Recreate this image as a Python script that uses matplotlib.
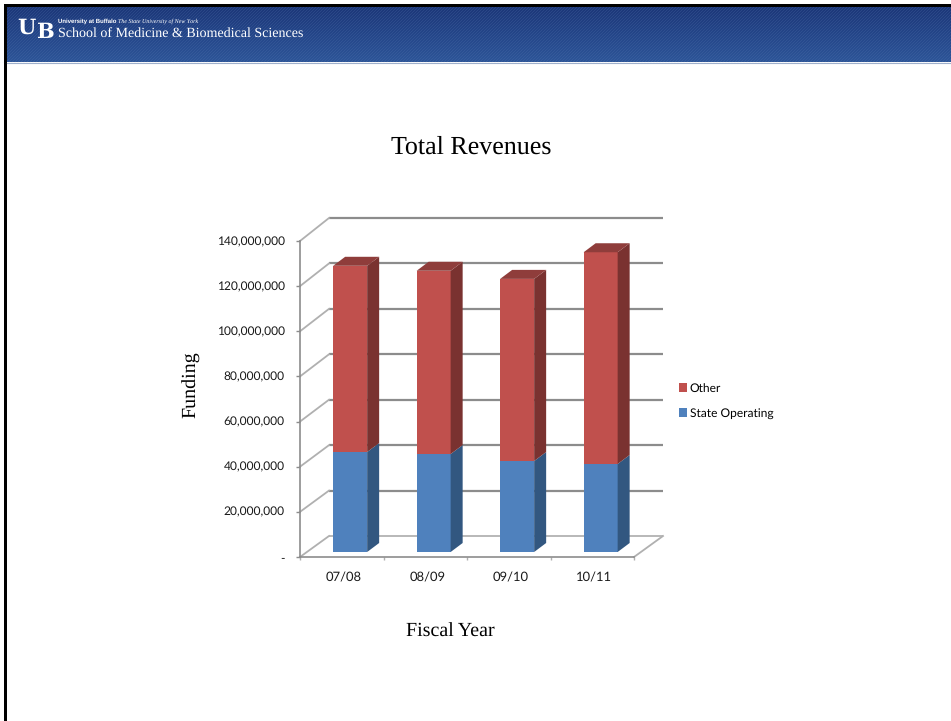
import numpy as np
import matplotlib
matplotlib.use('Agg')
import matplotlib.pyplot as plt
from matplotlib.patches import Rectangle
from matplotlib.transforms import ScaledTranslation

plt.rcParams['text.hinting'] = 'no_hinting'
plt.rcParams['text.hinting_factor'] = 1

years = ['07/08', '08/09', '09/10', '10/11']
state_operating = [44300000, 43400000, 40300000, 39000000]
other = [82500000, 81200000, 80700000, 93800000]
y_ticks = [0, 20000000, 40000000, 60000000, 80000000, 100000000, 120000000, 140000000]
y_labels = ['-', '20,000,000', '40,000,000', '60,000,000', '80,000,000',
            '100,000,000', '120,000,000', '140,000,000']

W, H = 951, 721
GRID = '#8c8c8c'
SANS = 'Lato'
SERIF = 'Liberation Serif'

fig = plt.figure(figsize=(W / 100, H / 100), dpi=100, facecolor='white')


def px_axes(x0, y0, x1, y1):
    # axes placed by picture pixels, y counted from the top
    return fig.add_axes([x0 / W, 1 - y1 / H, (x1 - x0) / W, (y1 - y0) / H])


# header band
bg = fig.add_axes([0, 0, 1, 1])
bg.axis('off')
grad = np.linspace(0, 1, 55)[:, None]
top_c = np.array([0x1b, 0x36, 0x78]) / 255
bot_c = np.array([0x2c, 0x54, 0x98]) / 255
bg.imshow((top_c + (bot_c - top_c) * grad)[:, None, :].reshape(55, 1, 3),
          extent=(4, W, 62, 7), aspect='auto', interpolation='bilinear')
for k in range(-60, W, 3):
    bg.plot([k, k + 55], [62, 7], color='#5f7fb5', lw=0.4, alpha=0.35)
bg.set_xlim(0, W)
bg.set_ylim(H, 0)
bg.add_patch(Rectangle((0, 0), 4, 62, color='white', lw=0, zorder=3))
bg.add_patch(Rectangle((4, 4), W, 3, color='black', lw=0, zorder=3))
bg.add_patch(Rectangle((4, 4), 2.7, H, color='black', lw=0, zorder=3))
bg.plot([6.7, W], [62.5, 62.5], color='#9fb0cc', lw=0.8, zorder=3)
bg.text(17, 28, 'U', color='white', family='DejaVu Serif', weight='bold', fontsize=15,
        va='center', ha='left', zorder=4)
bg.text(36, 32.5, 'B', color='white', family='DejaVu Serif', weight='bold', fontsize=15,
        va='center', ha='left', zorder=4)
bg.text(57.5, 21.5, 'University at Buffalo', color='white', family='Liberation Sans',
        weight='bold', fontsize=4.05, va='center', zorder=4)
bg.text(118, 21.5, 'The State University of New York', color='white', family=SERIF,
        style='italic', fontsize=4.1, va='center', zorder=4)
bg.text(58, 34, 'School of Medicine & Biomedical Sciences', color='white',
        family=SERIF, fontsize=10.35, va='center', zorder=4)

bg.text(471, 147, 'Total Revenues', family=SERIF, fontsize=19, ha='center',
        va='center', color='black')
bg.text(450.5, 632, 'Fiscal Year', family=SERIF, fontsize=14.4, ha='center',
        va='center', color='black')
bg.text(191, 385, 'Funding', family=SERIF, fontsize=14.4, rotation=90, ha='center',
        va='center', color='black')

# chart: front plane of the 3D box
ax = px_axes(300, 241, 634, 557)
ax.set_xlim(0, 4)
ax.set_ylim(0, 140000000)
ax.patch.set_alpha(0)
for s in ['top', 'right']:
    ax.spines[s].set_visible(False)
for s in ['left', 'bottom']:
    ax.spines[s].set_color(GRID)
    ax.spines[s].set_linewidth(1.2)

xpx = 4 / 334  # one pixel in x data units
ypx = 140000000 / 316  # one pixel in y data units
back_dx, back_dy = 29 * xpx, 21 * ypx
back_scale = 318 / 316  # back wall grid is spaced a touch wider than the front axis
bar_dx, bar_dy = 12 * xpx, 9 * ypx
shift_x, shift_y = 8.4 * xpx, 5 * ypx
bar_w = 34 * xpx

# back wall gridlines and the diagonals on the side wall and floor
for t in y_ticks:
    c, w = ('#b8b8b8', 1.4) if t == 0 else (GRID, 1.6)
    back_y = t * back_scale + back_dy
    ax.plot([back_dx, 4 + back_dx], [back_y, back_y], color=c, lw=w,
            clip_on=False, zorder=1, solid_capstyle='butt')
    ax.plot([0, back_dx], [t, back_y], color='#b0b0b0', lw=1.3, clip_on=False, zorder=1)
ax.plot([4, 4 + back_dx], [0, back_dy], color='#b0b0b0', lw=1.3, clip_on=False, zorder=1)

idx = np.arange(len(years))
centers = idx + 0.5 + shift_x
series = [(state_operating, [0, 0, 0, 0], '#4f81bd', '#325780', '#3d6796', 'State Operating'),
          (other, state_operating, '#c0504d', '#7a3230', '#8f3d3b', 'Other')]

handles = {}
for vals, base, front, side, top, name in series:
    vals = np.array(vals)
    base = np.array(base)
    bars = ax.bar(centers, vals, bar_w, bottom=base + shift_y, color=front, lw=0,
                  zorder=3, clip_on=False)
    handles[name] = bars[0]
    for c, v, b in zip(centers, vals, base):
        r = c + bar_w / 2
        l = c - bar_w / 2
        lo = b + shift_y
        hi = b + v + shift_y
        ax.fill([r, r + bar_dx, r + bar_dx, r], [lo, lo + bar_dy, hi + bar_dy, hi],
                color=side, lw=0, zorder=3, clip_on=False)
        if name == 'Other':
            ax.fill([l, l + bar_dx, r + bar_dx, r], [hi, hi + bar_dy, hi + bar_dy, hi],
                    color=top, lw=0, zorder=3, clip_on=False)

ax.set_xticks(np.arange(0, 5))
ax.set_xticklabels([])
ax.set_xticks(idx + 0.5, minor=True)
ax.set_xticklabels(years, minor=True, fontsize=9, family=SANS, color='#1a1a1a')
ax.tick_params(axis='x', which='major', length=2.5, color='#b0b0b0', width=1)
ax.tick_params(axis='x', which='minor', length=0, pad=11)
ax.set_yticks(y_ticks)
ax.set_yticklabels(y_labels, fontsize=8.8, family=SANS, color='#1a1a1a')
ax.tick_params(axis='y', length=3, color=GRID, width=1, pad=8)

# nudge labels to where the reference has them
up = ScaledTranslation(0, 0.5 / 100, fig.dpi_scale_trans)
right = ScaledTranslation(2 / 100, 0, fig.dpi_scale_trans)
for lab in ax.get_yticklabels():
    lab.set_transform(lab.get_transform() + up)
for lab in ax.get_xticklabels(minor=True):
    lab.set_transform(lab.get_transform() + right)

leg = fig.legend([handles['Other'], handles['State Operating']], ['Other', 'State Operating'],
                 loc='upper left', bbox_to_anchor=(679 / W, 1 - 383 / H), frameon=False,
                 prop={'family': SANS, 'size': 8.8}, labelspacing=1.15, handlelength=0.66,
                 handleheight=0.66, handletextpad=0.22, borderpad=0, borderaxespad=0)

fig.savefig('out.png', dpi=100)
